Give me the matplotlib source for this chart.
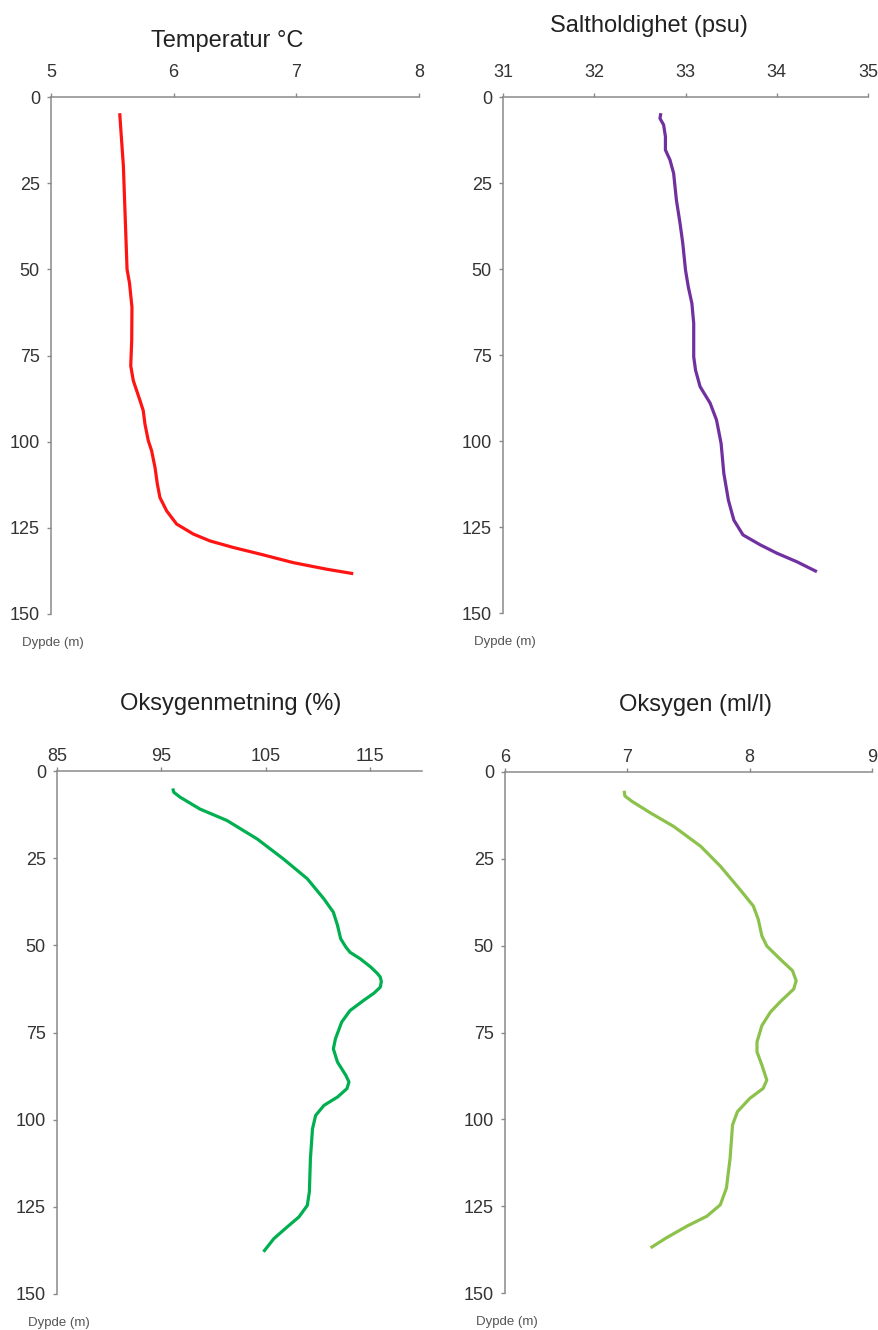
"""Dybdeprofiler: temperatur, saltholdighet og oksygen."""
import matplotlib
matplotlib.use("Agg")
import matplotlib.pyplot as plt

plt.rcParams['font.family'] = ['Liberation Sans', 'DejaVu Sans']

# --- data ---
temp_depth = [4.7, 20, 35, 50, 54, 61, 70.6, 78, 82.3, 88, 91, 94.9, 99.7,
              102.6, 107.5, 112.3, 116.2, 120.1, 123.9, 126.8, 128.8, 130.7,
              132.6, 135.1, 137, 138.3]
temp_val = [5.56, 5.59, 5.605, 5.62, 5.64, 5.66, 5.658, 5.65, 5.671, 5.725,
            5.752, 5.766, 5.793, 5.82, 5.848, 5.867, 5.888, 5.943, 6.024,
            6.16, 6.296, 6.486, 6.703, 6.975, 7.247, 7.464]

sal_depth = [4.7, 6.2, 8.1, 11.5, 15.4, 18.3, 22.2, 29.9, 36.7, 42.5, 50.3,
             55.1, 60, 65.8, 75.5, 79.4, 84.2, 89, 93.9, 100.7, 109.4, 117.2,
             123, 127.3, 130.2, 132.6, 135.1, 138]
sal_val = [32.73, 32.72, 32.76, 32.78, 32.78, 32.83, 32.87, 32.90, 32.94,
           32.97, 33.00, 33.03, 33.07, 33.09, 33.09, 33.11, 33.16, 33.27,
           33.34, 33.39, 33.42, 33.47, 33.53, 33.63, 33.82, 34.00, 34.22, 34.44]

oxs_depth = [5, 6.1, 7.5, 10.9, 14.2, 19.5, 25.2, 30.9, 36.7, 40.5, 44.3, 48.1,
             50.5, 52, 53.9, 56.2, 58, 59.1, 60.4, 62, 63.7, 65.8, 68.7, 72,
             76.8, 79.7, 83.5, 87.3, 89.2, 91.1, 93.5, 95.9, 98.8, 102.6, 111.2,
             120.7, 124.6, 127.9, 130.7, 134.1, 137.9]
oxs_val = [96.1, 96.2, 96.8, 98.7, 101.3, 104.2, 106.7, 109.0, 110.6, 111.5,
           111.9, 112.2, 112.7, 113.1, 114.1, 115.07, 115.7, 116.0, 116.1, 116.0,
           115.4, 114.4, 113.1, 112.3, 111.7, 111.5, 111.9, 112.7, 113.0, 112.8,
           111.9, 110.6, 109.8, 109.5, 109.3, 109.2, 109.0, 108.2, 107.1, 105.8,
           104.8]

oxm_depth = [5.4, 6.9, 8.5, 11.8, 15.7, 21.4, 27.1, 33.8, 38.6, 42.4, 47.2,
             50.1, 53.9, 57.2, 60.1, 62.5, 65.8, 69.1, 73, 77.7, 80.6, 84.4,
             88.7, 91.1, 94, 97.8, 101.6, 111.2, 119.8, 124.6, 127.9, 130.7,
             134.1, 137]
oxm_val = [6.974, 6.98, 7.04, 7.19, 7.38, 7.60, 7.76, 7.92, 8.03, 8.07, 8.10,
           8.14, 8.25, 8.35, 8.38, 8.36, 8.26, 8.17, 8.10, 8.06, 8.06, 8.10,
           8.14, 8.11, 8.00, 7.90, 7.86, 7.84, 7.81, 7.76, 7.65, 7.49, 7.32,
           7.19]

titles = ['Temperatur °C', 'Saltholdighet (psu)', 'Oksygenmetning (%)', 'Oksygen (ml/l)']
xticks = [[5, 6, 7, 8], [31, 32, 33, 34, 35], [85, 95, 105, 115], [6, 7, 8, 9]]
xlims = [(5, 8), (31, 35), (85, 120), (6, 9)]
depth_ticks = [0, 25, 50, 75, 100, 125, 150]
depth_label = 'Dypde (m)'

# --- layout / style ---
W, H = 879, 1330
# (left, top, right, bottom) in pixels
boxes = [(51, 97, 419, 614), (503, 97, 868, 613),
         (57, 771, 422, 1294), (505, 772, 872, 1293)]
colors = ['#ff1414', '#7030a0', '#00b050', '#8cc24c']
title_x = [0.48, 0.40, 0.475, 0.518]
title_off = [36, 47, 44, 44]
xlab_pad = [8.5, 8.5, 1.0, 1.0]
axis_grey = '#8a8a8a'

fig = plt.figure(figsize=(W / 100, H / 100), dpi=100, facecolor='white')

series = [(temp_val, temp_depth), (sal_val, sal_depth),
          (oxs_val, oxs_depth), (oxm_val, oxm_depth)]

for i, (vals, depth) in enumerate(series):
    l, t, r, b = boxes[i]
    ax = fig.add_axes([l / W, 1 - b / H, (r - l) / W, (b - t) / H])
    ax.plot(vals, depth, color=colors[i], lw=2.3, solid_capstyle='butt',
            solid_joinstyle='round')

    ax.set_xlim(*xlims[i])
    ax.set_ylim(150, 0)
    ax.set_xticks(xticks[i])
    ax.set_yticks(depth_ticks)
    ax.xaxis.tick_top()

    for s in ['right', 'bottom']:
        ax.spines[s].set_visible(False)
    for s in ['left', 'top']:
        ax.spines[s].set_color(axis_grey)
        ax.spines[s].set_linewidth(1.1)

    ax.tick_params(axis='x', direction='out', length=3, width=1, color=axis_grey,
                   labelsize=13, labelcolor='#333333', pad=xlab_pad[i])
    ax.tick_params(axis='y', direction='out', length=3, width=1, color=axis_grey,
                   labelsize=13, labelcolor='#333333', pad=5)

    ax.annotate(titles[i], xy=(title_x[i], 1), xycoords='axes fraction',
                xytext=(0, title_off[i]), textcoords='offset points',
                ha='center', va='baseline', fontsize=17, color='#222222')
    ax.annotate(depth_label, xy=(0, 0), xycoords='axes fraction',
                xytext=(-21, -23), textcoords='offset points',
                ha='left', va='baseline', fontsize=9.5, color='#555555')

fig.savefig('out.png', dpi=100, facecolor='white')
